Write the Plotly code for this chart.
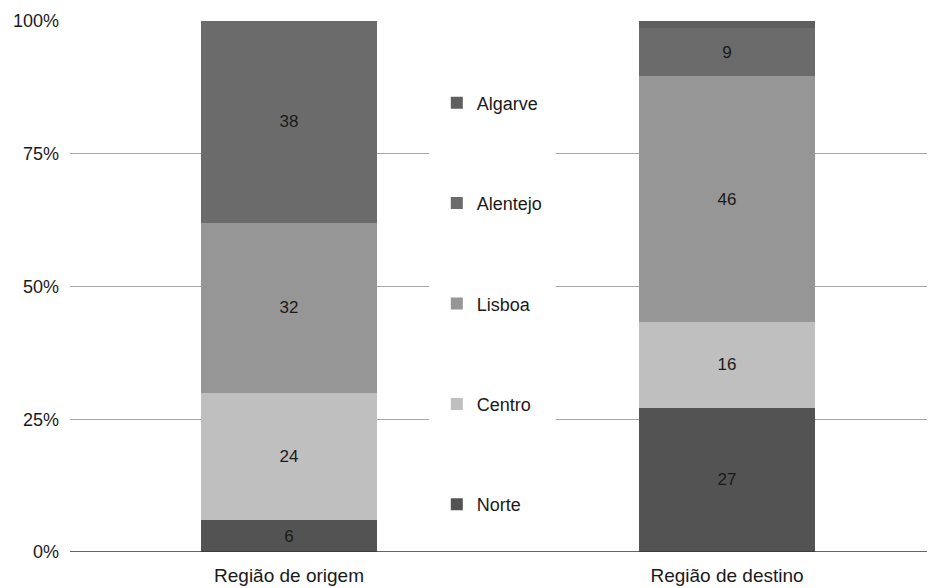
import plotly.graph_objects as go

categories = ["Região de origem", "Região de destino"]
series_names = ["Norte", "Centro", "Lisboa", "Alentejo", "Algarve"]
norte = [6, 27]
centro = [24, 16]
lisboa = [32, 46]
alentejo = [38, 9]
algarve = [0, 1.3]
labels = {
    "Norte": ["6", "27"],
    "Centro": ["24", "16"],
    "Lisboa": ["32", "46"],
    "Alentejo": ["38", "9"],
    "Algarve": ["", ""],
}
colors = {
    "Norte": "#535353",
    "Centro": "#bfbfbf",
    "Lisboa": "#969696",
    "Alentejo": "#6b6b6b",
    "Algarve": "#5f5f5f",
}
values = {"Norte": norte, "Centro": centro, "Lisboa": lisboa,
          "Alentejo": alentejo, "Algarve": algarve}

FONT = "Liberation Sans, Arial, sans-serif"
TXT = "#1a1a1a"

fig = go.Figure()
for i, name in enumerate(series_names):
    fig.add_trace(go.Bar(
        name=name,
        x=categories,
        y=values[name],
        text=labels[name],
        texttemplate="%{text}",
        textposition="inside",
        insidetextanchor="middle",
        textangle=0,
        constraintext="none",
        textfont=dict(family=FONT, size=17, color=TXT),
        marker=dict(color=colors[name], line=dict(width=0)),
        width=0.402,
        legendgroup=name,
        legendrank=len(series_names) - i,
        hoverinfo="skip",
    ))

fig.update_layout(
    barmode="stack",
    barnorm="percent",
    width=935, height=588,
    margin=dict(l=62, r=0, t=13, b=44),
    paper_bgcolor="white", plot_bgcolor="white",
    font=dict(family=FONT, size=18, color=TXT),
    showlegend=True,
    legend=dict(
        x=0.411, xanchor="left", y=0.468, yanchor="middle",
        traceorder="grouped",
        tracegroupgap=74,
        bgcolor="white",
        bordercolor="white",
        borderwidth=8,
        font=dict(family=FONT, size=18, color=TXT),
        itemwidth=30,
    ),
    xaxis=dict(
        range=[-0.5, 1.493],
        showgrid=False,
        showline=False,
        ticks="",
        ticklabelstandoff=10,
        tickfont=dict(family=FONT, size=19, color=TXT),
        fixedrange=True,
    ),
    yaxis=dict(
        range=[0, 100],
        tickvals=[0, 25, 50, 75, 100],
        ticktext=["0%", "25%", "50%", "75%", "100%"],
        showgrid=True,
        gridcolor="#a6a6a6",
        gridwidth=1,
        zeroline=False,
        showline=False,
        ticks="",
        ticklabelstandoff=10,
        tickfont=dict(family=FONT, size=18, color=TXT),
        fixedrange=True,
    ),
)

fig.add_shape(type="line", xref="paper", yref="y", x0=0, x1=1, y0=0, y1=0,
              line=dict(color="#333333", width=1.5))

fig.write_html("out.html")
